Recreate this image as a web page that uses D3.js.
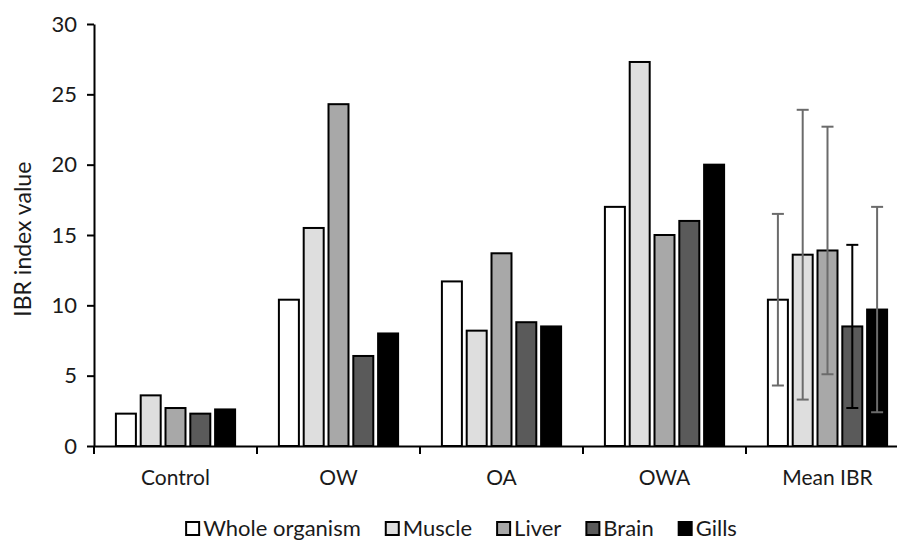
<!DOCTYPE html>
<html lang="en">
<head>
    <meta charset="UTF-8">
    <title>IBR index</title>
    <script src="https://d3js.org/d3.v7.min.js"></script>
    <style>
        body { margin: 0; background: #fff; }
        text { font-family: Lato, "Open Sans", sans-serif; fill: #1a1a1a; }
    </style>
</head>
<body>
<script>
    groups = ["Control", "OW", "OA", "OWA", "Mean IBR"]
    series = ["Whole organism", "Muscle", "Liver", "Brain", "Gills"]

    wholeOrganism = [2.3, 10.4, 11.7, 17.0, 10.4]
    muscle = [3.6, 15.5, 8.2, 27.3, 13.6]
    liver = [2.7, 24.3, 13.7, 15.0, 13.9]
    brain = [2.3, 6.4, 8.8, 16.0, 8.5]
    gills = [2.6, 8.0, 8.5, 20.0, 9.7]

    // error (+/-) on the Mean IBR group only
    meanErr = [6.1, 10.3, 8.8, 5.8, 7.3]
    errColor = ["#6b6b6b", "#6b6b6b", "#6b6b6b", "#000", "#6b6b6b"]

    yTicks = [0, 5, 10, 15, 20, 25, 30]
    colors = ["#ffffff", "#dedede", "#a8a8a8", "#5a5a5a", "#000000"]

    values = [wholeOrganism, muscle, liver, brain, gills]

    data = []
    groups.forEach((g, gi) => {
        series.forEach((s, si) => {
            data.push({group: g, series: s, value: values[si][gi],
                err: g === "Mean IBR" ? meanErr[si] : null, ec: errColor[si], i: si})
        })
    })

    w = 897
    h = 541

    svg = d3.select("body")
        .append("svg")
        .attr("width", w)
        .attr("height", h)

    x = d3.scaleBand()
        .domain(groups)
        .range([94, 909])

    xs = d3.scaleBand()
        .domain(series)
        .range([0, x.bandwidth()])
        .paddingInner(0.194)
        .paddingOuter(0.883)

    y = d3.scaleLinear()
        .domain([0, 30])
        .range([446, 24])

    // bars
    svg.selectAll("rect.bar")
        .data(data)
        .enter()
        .append("rect")
        .attr("class", "bar")
        .attr("x", (d) => x(d.group) + xs(d.series))
        .attr("y", (d) => y(d.value))
        .attr("width", xs.bandwidth())
        .attr("height", (d) => y(0) - y(d.value))
        .attr("fill", (d) => colors[d.i])
        .attr("stroke", "#000")
        .attr("stroke-width", 2)

    // error bars
    errs = data.filter((d) => d.err !== null)
    errG = svg.selectAll("g.err")
        .data(errs)
        .enter()
        .append("g")
        .attr("class", "err")
        .attr("stroke", (d) => d.ec)
        .attr("stroke-width", 2)
    errG.append("line")
        .attr("x1", (d) => x(d.group) + xs(d.series) + xs.bandwidth() / 2)
        .attr("x2", (d) => x(d.group) + xs(d.series) + xs.bandwidth() / 2)
        .attr("y1", (d) => y(d.value + d.err))
        .attr("y2", (d) => y(d.value - d.err))
    ;[1, -1].forEach((sgn) => {
        errG.append("line")
            .attr("x1", (d) => x(d.group) + xs(d.series) + xs.bandwidth() / 2 - 6)
            .attr("x2", (d) => x(d.group) + xs(d.series) + xs.bandwidth() / 2 + 6)
            .attr("y1", (d) => y(d.value + sgn * d.err))
            .attr("y2", (d) => y(d.value + sgn * d.err))
    })

    // y axis
    yAxis = svg.append("g")
        .attr("transform", "translate(94,0)")
        .call(d3.axisLeft(y).tickValues(yTicks).tickSize(7).tickSizeOuter(0).tickPadding(10))
    yAxis.select(".domain").attr("stroke", "#000").attr("stroke-width", 2)
    yAxis.selectAll(".tick line").attr("stroke", "#000").attr("stroke-width", 2)
    yAxis.selectAll(".tick text").style("font-size", "22px").attr("fill", "#1a1a1a")

    // x axis
    xAxis = svg.append("g")
        .attr("transform", "translate(0," + y(0) + ")")
        .call(d3.axisBottom(x).tickSize(0).tickSizeOuter(0).tickPadding(24))
    xAxis.select(".domain").attr("stroke", "#000").attr("stroke-width", 2)
    xAxis.selectAll(".tick text").style("font-size", "21px").attr("fill", "#1a1a1a")
    xAxis.selectAll("line.bound")
        .data(groups)
        .enter()
        .append("line")
        .attr("class", "bound")
        .attr("x1", (d) => x(d))
        .attr("x2", (d) => x(d))
        .attr("y1", 0)
        .attr("y2", 8)
        .attr("stroke", "#000")
        .attr("stroke-width", 2)

    // y label
    svg.append("text")
        .attr("transform", "translate(31," + y(14.7) + ") rotate(-90)")
        .attr("text-anchor", "middle")
        .style("font-size", "23px")
        .text("IBR index value")

    // legend
    legend = svg.append("g")
    let lx = 0
    series.forEach((s, i) => {
        item = legend.append("g").attr("transform", "translate(" + lx + ",0)")
        item.append("rect")
            .attr("x", 1).attr("y", -14)
            .attr("width", 13).attr("height", 13)
            .attr("fill", colors[i])
            .attr("stroke", "#000")
            .attr("stroke-width", 2)
        t = item.append("text")
            .attr("x", 18)
            .attr("y", 0)
            .style("font-size", "22px")
            .text(s)
        lx += 18 + t.node().getComputedTextLength() + 24
    })
    legend.attr("transform", "translate(" + (461 - (lx - 24) / 2) + ",536)")
</script>
</body>
</html>
